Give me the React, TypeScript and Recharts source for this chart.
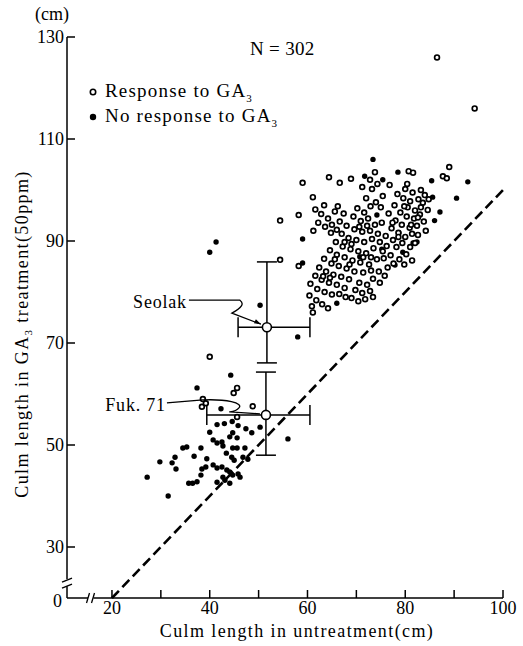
import {
  ErrorBar,
  Label,
  Legend,
  ReferenceDot,
  ReferenceLine,
  Scatter,
  ScatterChart,
  XAxis,
  YAxis,
} from "recharts";

const FONT = '"Liberation Serif", "DejaVu Serif", serif';

// axis ticks and labels
const X_TICKS = [20, 30, 40, 50, 60, 70, 80, 90, 100];
const X_LABELED = [20, 40, 60, 80, 100];
const Y_TICKS = [20, 30, 50, 70, 90, 110, 130];
const X_MIN = 10.8;
const Y_MIN = 20;

// cultivars that responded to GA3 (open circles): [untreated, treated]
const RESPONSE: [number, number][] = [
  [86.5, 126], [94.2, 116], [59, 101.4], [64.4, 102.5], [66.6, 101.4], [68.9, 102.2],
  [73.8, 103.5], [72.8, 102], [74.3, 101.2], [71.2, 100.6], [73.2, 100.2], [80.7, 103.7],
  [81.6, 103.4], [80.4, 101.2], [89, 104.5], [87.7, 102.7], [88.5, 102.3], [76.8, 101],
  [61.1, 98.6], [54.4, 94], [58.2, 95.1], [54.4, 86.3], [58.2, 85.1],
  [80, 100.2], [81.5, 99.5], [83.2, 100], [84, 99], [79.6, 98.4], [81, 97.8], [82.7, 98.2],
  [80.5, 96.6], [82, 96], [83.6, 97.5], [79, 95.6], [80.3, 94.8], [81.8, 94.4], [83, 95.2],
  [84.6, 96.1], [78, 94], [79.3, 93.2], [80.9, 92.6], [82.4, 93], [83.8, 93.8], [77.2, 92.5],
  [78.6, 91.6], [80, 90.8], [81.4, 91.4], [76, 91], [77.5, 90.2], [82.6, 91.2], [84.2, 92],
  [76.6, 95.4], [75.2, 93.6], [75, 96.6], [77.8, 97], [78.4, 99.2],
  [70.2, 96.4], [71.6, 95.6], [72.9, 96.8], [69.4, 94.8], [70.9, 93.9], [72.4, 94.4],
  [73.8, 93.2], [68, 93], [69.6, 92.3], [71.2, 91.8], [72.8, 92], [74.4, 91.4], [67, 91.4],
  [68.4, 90.6], [70, 90.2], [71.6, 89.8], [73.2, 90.4], [74.8, 89.8], [65.8, 89.8],
  [67.2, 88.9], [68.8, 88.4], [70.4, 88], [72, 87.6], [73.5, 88.6], [75.4, 88], [64.6, 88.2],
  [66, 87.3], [67.6, 86.8], [69.2, 86.2], [70.8, 85.8], [72.6, 85.4], [74.2, 86.4],
  [63.4, 86.5], [64.9, 85.6], [66.4, 85.1], [68, 84.6], [69.6, 84], [71.4, 83.8], [73, 84.2],
  [62.4, 84.8], [63.8, 84], [65.3, 83.4], [66.9, 83], [68.5, 82.5], [61.6, 83.2], [62.9, 82.4],
  [64.4, 81.8], [66, 81.4], [67.6, 80.8], [60.6, 81.6], [62, 80.6], [63.5, 80], [65, 79.5],
  [66.5, 79.6], [60.4, 79.3], [61.8, 78.4], [63, 77.6], [61.1, 76], [64.2, 76.8], [60.9, 77.2],
  [61.6, 96.2], [62.8, 95.3], [63.4, 97], [64.2, 94.4], [65.6, 95.8], [66.2, 96.8],
  [62.2, 93.6], [63.6, 92.8], [65, 93.2], [66.6, 93.8], [67.4, 95.4], [61.2, 92], [64.8, 91.6],
  [66, 92.2],
  [75.6, 86.6], [77, 87.2], [78.2, 88.8], [79.4, 89.6], [76.4, 84.8], [77.6, 85.6],
  [78.8, 86.4], [80.2, 87.4], [74.6, 84], [75.8, 83.2], [73.4, 82.6], [74.8, 81.8],
  [72.2, 81.4], [70.6, 81.8], [69.8, 80.4], [71.2, 79.8], [72.8, 80.2], [69, 78.8],
  [70.4, 78.2], [71.8, 78.6], [73.4, 79], [67.8, 79],
  [70.6, 92.8], [72.2, 93], [67.6, 89.8], [69, 89.4], [73, 86.8], [71.4, 86.8], [68.6, 85.4],
  [65.6, 86.4], [63.2, 83.1], [64.6, 82.8], [76.2, 89], [78.6, 90.8], [81, 88.8], [82, 89.6],
  [79.8, 85.4], [81.4, 86.2], [77.4, 93.6], [79.8, 96.8], [82.6, 94.6], [81.2, 93.2],
  [83.2, 96.6], [84.8, 98.2], [74, 97.6], [72, 98.4], [75.4, 98.8],
  [40, 67.3], [45.6, 61.2], [44.9, 60.2], [38.6, 59], [38.4, 57.5], [39.2, 58.2],
  [48.8, 57.6], [45.6, 55.5],
];

// cultivars with no response to GA3 (filled circles)
const NO_RESPONSE: [number, number][] = [
  [73.4, 106], [78.5, 103.5], [92.8, 101.6], [85.4, 101.8], [71.7, 102.7], [75.4, 102],
  [85.6, 98.6], [90.5, 98.4], [59, 90.4], [59, 85.7], [50.3, 77.4], [66, 77.8], [77.9, 85.3],
  [79.5, 87.8], [81.6, 89.6], [86, 94], [87.1, 95.7], [74.2, 95.1], [41.3, 89.8], [40, 87.8],
  [58, 71.2], [56, 51.2], [78.7, 91.6], [82.4, 89.8], [70.7, 86.9], [75.2, 88.4],
  [44.3, 63.7], [37.4, 61.2], [42.3, 57.1], [41.5, 54], [43, 54.2], [44.6, 54.6],
  [45.8, 53.8], [47.4, 53.2], [50.3, 53.5], [48.6, 52.4], [40, 52.5], [40.7, 51],
  [41.5, 50.4], [42.5, 50.6], [42.7, 49.8], [44.1, 51.6], [44.7, 52.4], [45.6, 51.4],
  [38.2, 49.4], [34.5, 49.4], [35.3, 49.6], [44.7, 49.4], [45.6, 49.4], [47.2, 49.4],
  [32.9, 47.6], [32.3, 46.5], [29.8, 46.7], [33.1, 45.3], [39.4, 47.3], [39.2, 45.7],
  [40.7, 46.1], [38.4, 45.3], [38.2, 44.1], [41.5, 45.5], [42.5, 45.7], [43.5, 45.1],
  [27.2, 43.7], [35.7, 42.5], [36.5, 42.5], [37.4, 42.8], [31.5, 40], [42.7, 43.7],
  [44.1, 44.7], [44.7, 44.1], [45.8, 44.3], [46.2, 43.7], [43.1, 43.1], [44.1, 42.5],
  [41.5, 42.7], [46.8, 47.6], [44.5, 47.6], [45, 47], [36.8, 47.8], [43.4, 48.4],
  [47.8, 47.2],
];

// cultivar means with standard deviations [minus, plus]
const CULTIVARS = [
  { name: "Seolak", x: 51.7, y: 73.1, ex: [5.9, 8.8], ey: [7.0, 12.8] },
  { name: "Fuk. 71", x: 51.5, y: 55.9, ex: [12.1, 9.0], ey: [7.9, 8.4] },
];

const responseData = RESPONSE.map(([x, y]) => ({ x, y }));
const noResponseData = NO_RESPONSE.map(([x, y]) => ({ x, y }));

const OpenDot = (p: any) => (
  <circle cx={p.cx} cy={p.cy} r={2.4} fill="#fff" stroke="#000" strokeWidth={1.7} />
);
const FilledDot = (p: any) => <circle cx={p.cx} cy={p.cy} r={2.7} fill="#000" />;
const MeanDot = (p: any) => (
  <circle cx={p.cx} cy={p.cy} r={4.5} fill="#fff" stroke="#000" strokeWidth={1.6} />
);

function XTick({ x, y, payload }: any) {
  const v = payload.value;
  return (
    <g>
      <line x1={x} y1={y} x2={x} y2={y - 8} stroke="#000" strokeWidth={1.5} />
      {X_LABELED.includes(v) && (
        <text x={x} y={y + 16} textAnchor="middle" fontFamily={FONT} fontSize={18} fill="#000">
          {v}
        </text>
      )}
    </g>
  );
}

function YTick({ x, y, payload }: any) {
  const v = payload.value;
  if (v === Y_MIN) {
    return (
      <text x={x - 5} y={y + 9} textAnchor="end" fontFamily={FONT} fontSize={18} fill="#000">
        0
      </text>
    );
  }
  return (
    <g>
      <line x1={x} y1={y} x2={x + 8} y2={y} stroke="#000" strokeWidth={1.5} />
      <text x={x - 3} y={y + 6} textAnchor="end" fontFamily={FONT} fontSize={18} fill="#000">
        {v}
      </text>
    </g>
  );
}

function YBreak({ cx, cy }: any) {
  return (
    <g stroke="#000" strokeWidth={1.3}>
      <line x1={cx - 5} y1={cy + 1} x2={cx + 5} y2={cy - 3} />
      <line x1={cx - 5} y1={cy + 7} x2={cx + 5} y2={cy + 3} />
    </g>
  );
}

function XBreak({ cx, cy }: any) {
  return (
    <g stroke="#000" strokeWidth={1.3}>
      <line x1={cx - 2} y1={cy + 5} x2={cx + 1} y2={cy - 5} />
      <line x1={cx + 3} y1={cy + 5} x2={cx + 6} y2={cy - 5} />
    </g>
  );
}

function SeolakNote({ cx, cy }: any) {
  return (
    <g>
      <text x={cx - 80} y={cy - 19} textAnchor="end" fontFamily={FONT} fontSize={18} letterSpacing={0.8} fill="#000">
        Seolak
      </text>
      <path
        d={`M${cx - 78},${cy - 27} L${cx - 27},${cy - 27} Q${cx - 20},${cy - 22} ${cx - 35},${cy - 14} L${cx - 6},${cy - 3}`}
        fill="none"
        stroke="#000"
        strokeWidth={1.3}
      />
      <path d={`M${cx - 6},${cy - 3} l-7,-1 l2,-4 z`} fill="#000" />
    </g>
  );
}

function FukNote({ cx, cy }: any) {
  return (
    <g>
      <text x={cx - 100} y={cy - 4} textAnchor="end" fontFamily={FONT} fontSize={18} letterSpacing={0.8} fill="#000">
        Fuk. 71
      </text>
      <path
        d={`M${cx - 99},${cy - 12} L${cx - 63},${cy - 15} C${cx - 40},${cy - 16} ${cx - 22},${cy - 12} ${cx - 27},${cy - 7} C${cx - 30},${cy - 3} ${cx - 38},${cy - 3} ${cx - 36},${cy - 3} L${cx - 6},${cy - 1}`}
        fill="none"
        stroke="#000"
        strokeWidth={1.3}
      />
    </g>
  );
}

function LegendBox() {
  const row = { position: "absolute" as const, display: "flex", alignItems: "center", fontSize: 19, letterSpacing: 1.2 };
  return (
    <div style={{ position: "relative", width: 523, height: 140, fontFamily: FONT, color: "#000" }}>
      <div style={{ position: "absolute", left: 250, top: 38, fontSize: 19, letterSpacing: 0.3 }}>N = 302</div>
      <div style={{ ...row, left: 87, top: 80 }}>
        <svg width={12} height={12}>
          <circle cx={6} cy={6} r={2.7} fill="#fff" stroke="#000" strokeWidth={1.6} />
        </svg>
        <span style={{ marginLeft: 6 }}>
          Response to GA<sub style={{ fontSize: 11 }}>3</sub>
        </span>
      </div>
      <div style={{ ...row, left: 87, top: 105 }}>
        <svg width={12} height={12}>
          <circle cx={6} cy={6} r={3.2} fill="#000" />
        </svg>
        <span style={{ marginLeft: 6 }}>
          No response to GA<sub style={{ fontSize: 11 }}>3</sub>
        </span>
      </div>
    </div>
  );
}

export default function App() {
  return (
    <div style={{ position: "absolute", left: 0, top: 0, width: 523, height: 646, background: "#fff" }}>
      <ScatterChart width={523} height={646} margin={{ top: 37, right: 20, left: 7, bottom: 18 }}>
        <XAxis
          type="number"
          dataKey="x"
          domain={[X_MIN, 100]}
          ticks={X_TICKS}
          allowDataOverflow
          axisLine={false}
          tickLine={false}
          tickSize={0}
          tickMargin={0}
          height={30}
          tick={<XTick />}
        >
          <Label
            content={() => (
              <text x={297} y={637} textAnchor="middle" fontFamily={FONT} fontSize={18} letterSpacing={1.4} fill="#000">
                Culm length in untreatment(cm)
              </text>
            )}
          />
        </XAxis>
        <YAxis
          type="number"
          dataKey="y"
          domain={[Y_MIN, 130]}
          ticks={Y_TICKS}
          allowDataOverflow
          axisLine={false}
          tickLine={false}
          tickSize={0}
          tickMargin={0}
          width={60}
          tick={<YTick />}
        >
          <Label
            content={() => (
              <g>
                <text
                  transform="translate(28,334) rotate(-90)"
                  textAnchor="middle"
                  fontFamily={FONT}
                  fontSize={18}
                  letterSpacing={1.4}
                  fill="#000"
                >
                  Culm length in GA<tspan fontSize={11} dy={4}>3</tspan>
                  <tspan dy={-4}> treatment(50ppm)</tspan>
                </text>
                <text x={52} y={20} textAnchor="middle" fontFamily={FONT} fontSize={18} fill="#000">
                  (cm)
                </text>
              </g>
            )}
          />
        </YAxis>
        <Legend
          layout="vertical"
          align="center"
          verticalAlign="middle"
          wrapperStyle={{ left: 0, top: 0, width: 523, height: 140 }}
          content={() => <LegendBox />}
        />

        {/* axis lines with breaks */}
        <ReferenceLine segment={[{ x: X_MIN, y: 130 }, { x: X_MIN, y: 23.7 }]} stroke="#000" strokeWidth={1.5} ifOverflow="visible" />
        <ReferenceLine segment={[{ x: X_MIN, y: 22.3 }, { x: X_MIN, y: Y_MIN }]} stroke="#000" strokeWidth={1.5} ifOverflow="visible" />
        <ReferenceLine segment={[{ x: X_MIN, y: Y_MIN }, { x: 15.1, y: Y_MIN }]} stroke="#000" strokeWidth={1.5} ifOverflow="visible" />
        <ReferenceLine segment={[{ x: 16.2, y: Y_MIN }, { x: 100, y: Y_MIN }]} stroke="#000" strokeWidth={1.5} ifOverflow="visible" />
        <ReferenceDot x={X_MIN} y={23.3} r={0} ifOverflow="visible" shape={<YBreak />} />
        <ReferenceDot x={15.2} y={Y_MIN} r={0} ifOverflow="visible" shape={<XBreak />} />

        {/* 1:1 line */}
        <ReferenceLine
          segment={[{ x: 20, y: 20 }, { x: 100, y: 100 }]}
          stroke="#000"
          strokeWidth={2.6}
          strokeDasharray="10 5"
          ifOverflow="visible"
        />

        <Scatter data={noResponseData} shape={<FilledDot />} isAnimationActive={false} />
        <Scatter data={responseData} shape={<OpenDot />} isAnimationActive={false} />
        <Scatter data={CULTIVARS} shape={<MeanDot />} isAnimationActive={false}>
          <ErrorBar dataKey="ex" direction="x" width={10} stroke="#000" strokeWidth={1.5} />
          <ErrorBar dataKey="ey" direction="y" width={10} stroke="#000" strokeWidth={1.5} />
        </Scatter>

        <ReferenceDot x={CULTIVARS[0].x} y={CULTIVARS[0].y} r={0} ifOverflow="visible" shape={<SeolakNote />} />
        <ReferenceDot x={CULTIVARS[1].x} y={CULTIVARS[1].y} r={0} ifOverflow="visible" shape={<FukNote />} />
      </ScatterChart>
    </div>
  );
}
